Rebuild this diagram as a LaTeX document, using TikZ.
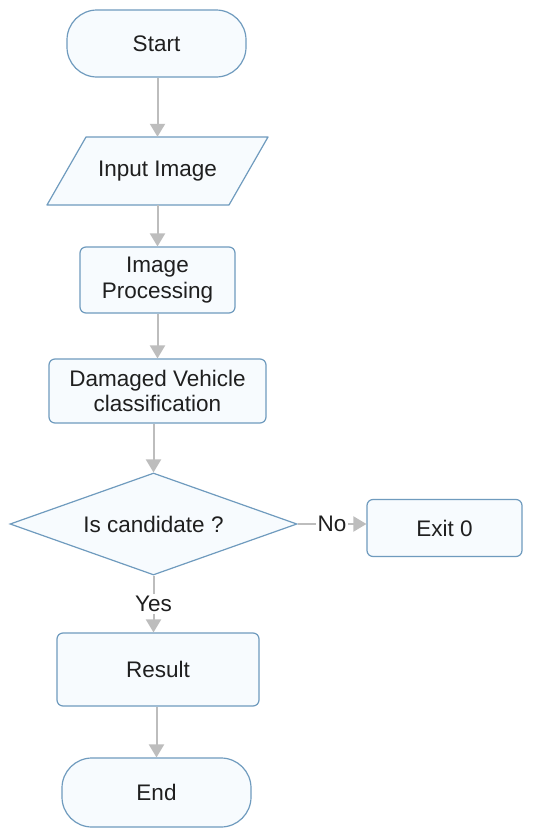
\documentclass[tikz,border=0pt]{standalone}
\usepackage{fontspec}
\setmainfont{Liberation Sans}
\usetikzlibrary{shapes.geometric,arrows.meta}
\definecolor{bordc}{HTML}{6F9BBE}
\definecolor{fillc}{HTML}{F7FBFE}
\definecolor{arrc}{HTML}{BDBDBD}
\begin{document}
\begin{tikzpicture}[x=1pt,y=-1pt,
  every node/.style={font=\fontsize{22.5}{25.5}\selectfont, text=black!88},
  box/.style={draw=bordc, fill=fillc, line width=1.2pt, rounded corners=6pt, align=center, inner sep=0pt},
  term/.style={box, rounded corners=30pt},
  decis/.style={draw=bordc, fill=fillc, line width=1.2pt, diamond, aspect=2.814, inner sep=0pt},
  conn/.style={draw=arrc, line width=2pt, -{Triangle[width=15pt,length=13pt]}},
  lbl/.style={fill=white, inner sep=2pt}
]
\useasboundingbox (0,0) rectangle (534,830);
\fill[white] (0,0) rectangle (534,830);

\node[term, minimum width=179pt, minimum height=67pt] (start) at (156.5,43.5) {Start};

\draw[draw=bordc, fill=fillc, line width=1.2pt, line join=round] (86,137) -- (268,137) -- (229,205) -- (47,205) -- cycle;
\node[inner sep=0pt, minimum width=182pt, minimum height=68pt] (input) at (157.5,171) {Input Image};

\node[box, minimum width=155pt, minimum height=66pt] (proc) at (157.5,280) {Image\\Processing};
\node[box, minimum width=217pt, minimum height=64pt] (cls) at (157.5,391) {Damaged Vehicle\\classification};
\node[decis, minimum width=287pt, minimum height=102pt] (dec) at (153.5,524) {Is candidate ?};
\node[box, minimum width=155pt, minimum height=57pt] (exit) at (444.5,528) {Exit 0};
\node[box, minimum width=202pt, minimum height=73pt] (res) at (158,669.5) {Result};
\node[term, minimum width=189pt, minimum height=69pt] (end) at (156.5,792.5) {End};

\draw[conn] (start.south -| input.north) -- (input.north);
\draw[conn] (input.south) -- (proc.north);
\draw[conn] (proc.south) -- (cls.north);
\draw[conn] (cls.south -| dec.north) -- (dec.north);
\draw[conn] (dec.east) -- node[lbl] {No} (dec.east -| exit.west);
\draw[conn] (dec.south) -- node[lbl] {Yes} (res.north -| dec.south);
\draw[conn] (res.south -| end.north) -- (end.north);
\end{tikzpicture}
\end{document}
